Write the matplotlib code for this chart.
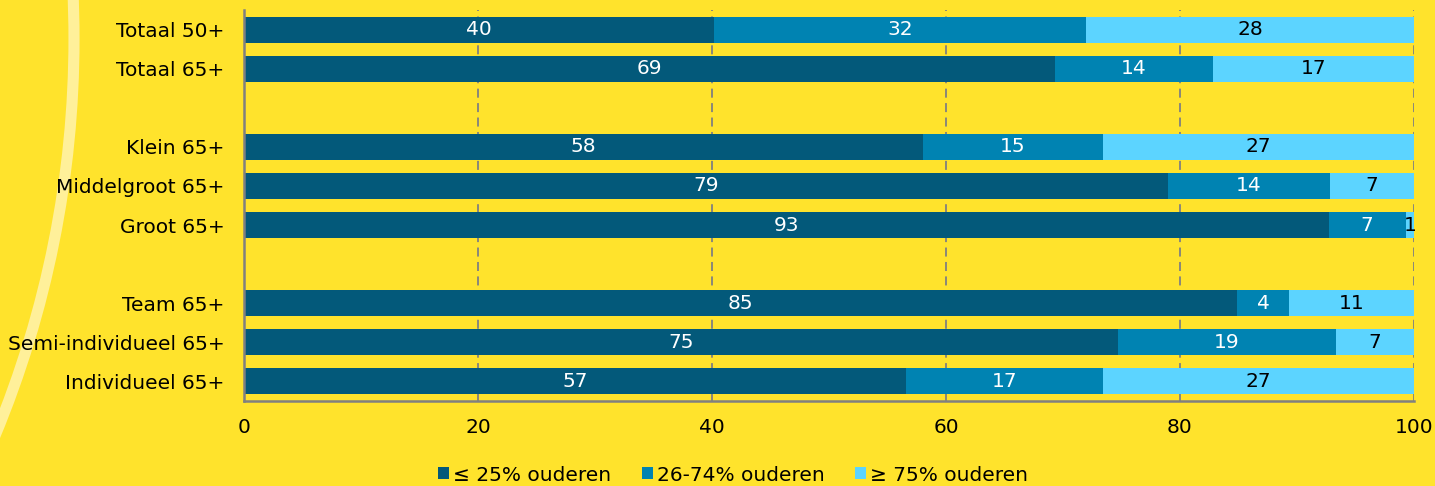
import numpy as np
import matplotlib
matplotlib.use('Agg')
from matplotlib import pyplot as plt
from matplotlib.patches import Circle, Patch

# categories (None = empty spacer row)
categories = ['Totaal 50+', 'Totaal 65+', None,
              'Klein 65+', 'Middelgroot 65+', 'Groot 65+', None,
              'Team 65+', 'Semi-individueel 65+', 'Individueel 65+']

# share of schools per category (percent)
low = [40.2, 69.3, 0, 58.0, 79.0, 92.7, 0, 84.9, 74.7, 56.6]
mid = [31.8, 13.5, 0, 15.4, 13.8, 6.6, 0, 4.4, 18.6, 16.8]
high = [28.0, 17.2, 0, 26.6, 7.2, 0.7, 0, 10.7, 6.7, 26.6]

series_names = ['≤ 25% ouderen', '26-74% ouderen', '≥ 75% ouderen']
colors = ['#03597A', '#0083B2', '#5CD4FF']
text_colors = ['white', 'white', 'black']
xticks = [0, 20, 40, 60, 80, 100]

BG = '#FFE32C'
W, H = 1435, 486

plt.rcParams['font.family'] = ['DejaVu Sans']

fig = plt.figure(figsize=(W / 100, H / 100), dpi=100)
fig.patch.set_facecolor(BG)

# decorative arc in the background
bg_ax = fig.add_axes([0, 0, 1, 1], zorder=0)
bg_ax.set_xlim(0, W)
bg_ax.set_ylim(H, 0)
bg_ax.axis('off')
bg_ax.add_patch(Circle((-962, 39), 1036, fill=False, edgecolor='#FFF09A', lw=8))

ax = fig.add_axes([244 / W, 1 - 401 / H, 1170 / W, 391 / H], zorder=1)
ax.set_facecolor('none')

ypos = np.arange(len(categories))
left = np.zeros(len(categories))
for vals, col, tcol in zip([low, mid, high], colors, text_colors):
    vals = np.array(vals)
    ax.barh(ypos, vals, left=left, height=0.665, color=col, zorder=2)
    for y, v, l in zip(ypos, vals, left):
        if categories[y] is None or v <= 0:
            continue
        ax.text(l + v / 2, y, f'{round(v)}', ha='center', va='center',
                color=tcol, fontsize=14.5, zorder=3)
    left = left + vals

ax.set_xlim(0, 100)
ax.set_ylim(len(categories) - 0.5, -0.5)
ax.set_yticks([y for y in ypos if categories[y] is not None])
ax.set_yticklabels([c for c in categories if c is not None], fontsize=14.5)
ax.set_xticks(xticks)
ax.set_xticklabels([str(t) for t in xticks], fontsize=14.5)
ax.tick_params(axis='both', length=0)
ax.tick_params(axis='x', pad=12)
ax.tick_params(axis='y', pad=14)

for x in xticks[1:]:
    ax.axvline(x, color='#808080', lw=1.3, ls=(0, (5, 3)), zorder=1)

for s in ['top', 'right']:
    ax.spines[s].set_visible(False)
for s in ['left', 'bottom']:
    ax.spines[s].set_color('#808080')
    ax.spines[s].set_linewidth(1.8)

handles = [Patch(facecolor=c, edgecolor='none') for c in colors]
fig.legend(handles, series_names, loc='center', bbox_to_anchor=(733 / W, 1 - 475 / H),
           ncol=3, frameon=False, fontsize=14.5, handlelength=0.55, handleheight=0.55,
           handletextpad=0.2, columnspacing=1.5)

fig.savefig('out.png', dpi=100, facecolor=BG)
